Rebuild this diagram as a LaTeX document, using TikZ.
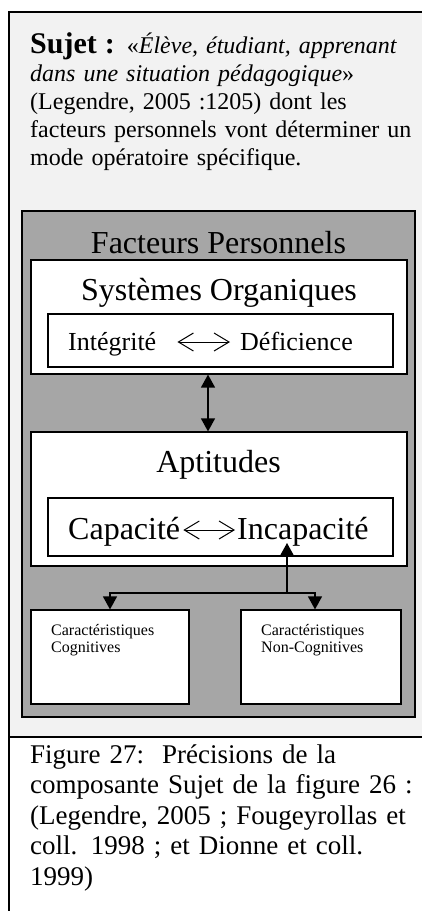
\documentclass[tikz,border=0pt]{standalone}
\usepackage{fontspec}
\setmainfont{Liberation Serif}
\usetikzlibrary{arrows.meta}
\definecolor{lightg}{HTML}{F2F2F2}
\definecolor{midg}{HTML}{A6A6A6}
\begin{document}
\begin{tikzpicture}[x=1pt,y=-1pt,
  wbox/.style={draw=black, fill=white, line width=1.2pt, inner sep=0pt},
  txt/.style={inner sep=0pt, anchor=base west},
  ctxt/.style={inner sep=0pt, anchor=base},
  big/.style={font=\fontsize{32}{36}\selectfont},
  mid/.style={font=\fontsize{26}{30}\selectfont},
  small/.style={font=\fontsize{16}{17}\selectfont, text width=130pt, align=left},
  solidhead/.style={line width=1.3pt, -{Triangle[length=13pt,width=14pt]}},
  bihead/.style={line width=1.3pt, {Triangle[length=13pt,width=14pt]}-{Triangle[length=13pt,width=14pt]}},
  chev/.style={line width=1pt, {Straight Barb[length=15pt,width=18pt]}-{Straight Barb[length=15pt,width=18pt]}}]
\useasboundingbox (0,0) rectangle (421,911);
% outer frame
\fill[white] (0,0) rectangle (421,911);
\filldraw[fill=lightg, draw=black, line width=1.3pt] (9,12) rectangle (424,737);
\draw[line width=1.3pt] (9,737) -- (9,915);
% top text
\node[txt, text width=390pt, align=left, font=\fontsize{24}{28}\selectfont] (sujet) at (30,53)
 {{\fontsize{30}{28}\selectfont\bfseries Sujet :} «\textit{Élève, étudiant, apprenant}\\
  \textit{dans une situation pédagogique}»\\
  (Legendre, 2005 :1205) dont les\\
  facteurs personnels vont déterminer un\\
  mode opératoire spécifique.};
% grey box
\filldraw[fill=midg, draw=black, line width=2pt] (22,211) rectangle (415,717);
\node[ctxt, big] (fp) at (218.5,253) {Facteurs Personnels};
% systemes organiques
\node[wbox, minimum width=376pt, minimum height=114pt] (sys) at (219,317) {};
\node[ctxt, big] (systxt) at (219,300) {Systèmes Organiques};
\node[wbox, minimum width=345pt, minimum height=53pt] (in1) at (220.5,340.5) {};
\node[txt, mid] (integ) at (68,350) {Intégrité};
\node[txt, mid] (defic) at (240,350) {Déficience};
\draw[chev] ([shift={(21,-8)}]integ.base east) -- ([shift={(-10,-8)}]defic.base west);
% aptitudes
\node[wbox, minimum width=376pt, minimum height=134pt] (apt) at (219,499) {};
\node[ctxt, big] (apttxt) at (218.5,472) {Aptitudes};
\node[wbox, minimum width=345pt, minimum height=58pt] (in2) at (220.5,527) {};
\node[txt, big] (capa) at (68,539) {Capacité};
\node[txt, big] (incap) at (237,539) {Incapacité};
\draw[chev] ([shift={(3,-9)}]capa.base east) -- ([shift={(-2,-9)}]incap.base west);
% arrow between boxes
\coordinate (ax) at (208,0);
\draw[bihead] (sys.south -| ax) -- (apt.north -| ax);
% bottom boxes
\node[wbox, minimum width=158pt, minimum height=94pt] (cog) at (110,657) {};
\node[wbox, minimum width=160pt, minimum height=94pt] (ncog) at (321,657) {};
\node[txt, small] (cogtxt) at (51,635) {Caractéristiques\\Cognitives};
\node[txt, small] (ncogtxt) at (261,635) {Caractéristiques\\Non-Cognitives};
% branching arrows
\coordinate (br) at (287,593);
\coordinate (captip) at (287,543);
\coordinate (rx) at (315,0);
\draw[solidhead] (br) -- (captip);
\draw[solidhead] (br) -| (cog.north);
\draw[solidhead] (br) -| (ncog.north -| rx);
% caption
\node[txt, text width=390pt, align=left, font=\fontsize{27}{30.5}\selectfont] (cap) at (30,763)
 {Figure 27:\ \ Précisions de la\\
  composante Sujet de la figure 26 :\\
  (Legendre, 2005 ; Fougeyrollas et\\
  coll. 1998 ; et Dionne et coll.\\
  1999)};
\end{tikzpicture}
\end{document}
